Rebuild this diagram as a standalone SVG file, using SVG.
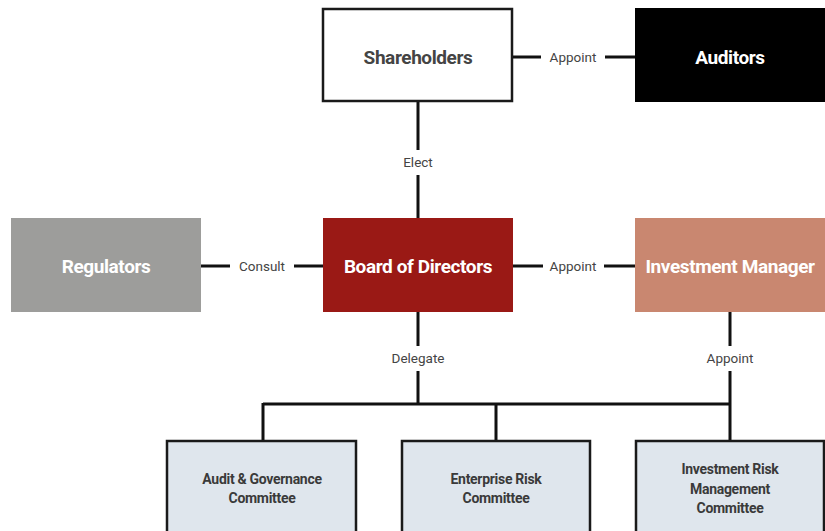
<svg xmlns="http://www.w3.org/2000/svg" width="825" height="531" viewBox="0 0 825 531">
<style>
.lbl{font-family:Roboto,"Liberation Sans",sans-serif;font-size:13.5px;fill:#444;text-anchor:middle;dominant-baseline:central}
.big{font-family:Roboto,"Liberation Sans",sans-serif;font-size:19px;font-weight:bold;text-anchor:middle;dominant-baseline:central;letter-spacing:-0.4px}
.cm{font-family:Roboto,"Liberation Sans",sans-serif;font-size:14px;font-weight:bold;fill:#3a3a3a;text-anchor:middle;dominant-baseline:central;letter-spacing:-0.3px}
.ln{stroke:#111;stroke-width:3;fill:none}
.cbox{fill:#dfe6ed;stroke:#1a1a1a;stroke-width:2.5}
</style>
<rect width="825" height="531" fill="#fff"/>
<g id="connectors">
<path class="ln" d="M513 57H541M605 57H635"/>
<path class="ln" d="M418 101V150M418 175V218"/>
<path class="ln" d="M201 266H230M294 266H323"/>
<path class="ln" d="M513 266H543M604 266H635"/>
<path class="ln" d="M418 312V346M418 371V404"/>
<path class="ln" d="M730 312V346M730 371V440"/>
<path class="ln" d="M263 404H730M263 403V440M496 403V440"/>
<text class="lbl" x="573" y="57">Appoint</text>
<text class="lbl" x="418" y="162">Elect</text>
<text class="lbl" x="262" y="266">Consult</text>
<text class="lbl" x="573" y="266">Appoint</text>
<text class="lbl" x="418" y="358">Delegate</text>
<text class="lbl" x="730" y="358">Appoint</text>
</g>
<g id="shareholders">
<rect x="323" y="9" width="189" height="92" fill="#fff" stroke="#1a1a1a" stroke-width="2.5"/>
<text class="big" x="418" y="57" fill="#444">Shareholders</text>
</g>
<g id="auditors">
<rect x="635" y="8" width="190" height="94" fill="#000"/>
<text class="big" x="730" y="57" fill="#fff">Auditors</text>
</g>
<g id="regulators">
<rect x="11" y="218" width="190" height="94" fill="#9d9d9b"/>
<text class="big" x="106" y="266" fill="#fff">Regulators</text>
</g>
<g id="board">
<rect x="323" y="218" width="190" height="94" fill="#9a1915"/>
<text class="big" x="418" y="266" fill="#fff">Board of Directors</text>
</g>
<g id="investment-manager">
<rect x="635" y="218" width="190" height="94" fill="#c98770"/>
<text class="big" x="730" y="266" fill="#fff">Investment Manager</text>
</g>
<g id="audit-committee">
<rect class="cbox" x="167" y="441" width="189" height="100"/>
<text class="cm" x="262" y="479">Audit &amp; Governance</text>
<text class="cm" x="262" y="498">Committee</text>
</g>
<g id="enterprise-risk">
<rect class="cbox" x="402" y="441" width="188" height="100"/>
<text class="cm" x="496" y="479">Enterprise Risk</text>
<text class="cm" x="496" y="498">Committee</text>
</g>
<g id="investment-risk">
<rect class="cbox" x="636" y="441" width="188" height="100"/>
<text class="cm" x="730" y="469">Investment Risk</text>
<text class="cm" x="730" y="489">Management</text>
<text class="cm" x="730" y="508">Committee</text>
</g>
</svg>
